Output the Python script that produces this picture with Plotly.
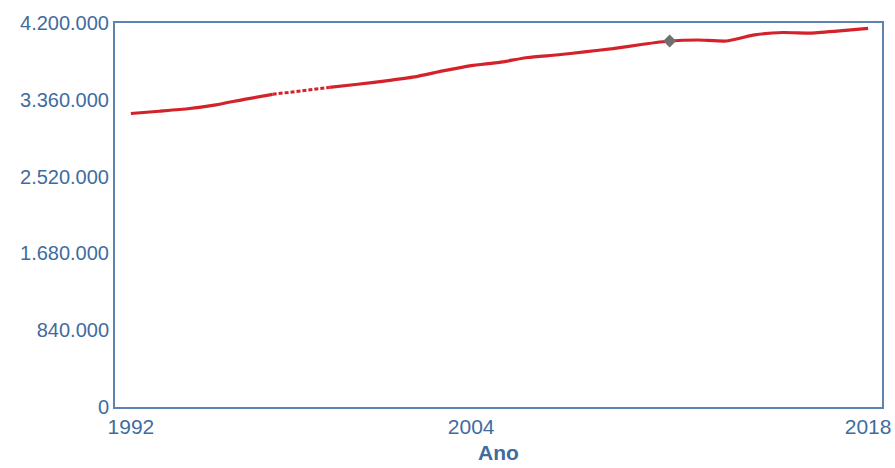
import plotly.graph_objects as go

years = list(range(1992, 2019))
values = [3210000, 3235000, 3262000, 3305000, 3365000, 3420000, None, 3495000,
          3530000, 3567000, 3610000, 3676000, 3734000, 3770000, 3823000, 3850000,
          3884000, 3920000, 3965000, 4003000, 4014000, 4003000, 4070000, 4096000,
          4090000, 4113000, 4142000]
highlight_year = 2011
y_tickvals = [0, 840000, 1680000, 2520000, 3360000, 4200000]
y_ticktext = ["0", "840.000", "1.680.000", "2.520.000", "3.360.000", "4.200.000"]
x_tickvals = [1992, 2004, 2018]
x_ticktext = ["1992", "2004", "2018"]

RED = "#d3222a"
AXIS = "#5b84b3"
TXT = "#3f6c9f"

fig = go.Figure()
# dashed connector across missing year
gap_i = values.index(None)
fig.add_trace(go.Scatter(
    x=[years[gap_i - 1], years[gap_i + 1]],
    y=[values[gap_i - 1], values[gap_i + 1]],
    mode="lines", line=dict(color=RED, width=3, dash="4px,2px"),
    hoverinfo="skip", showlegend=False))
fig.add_trace(go.Scatter(
    x=years, y=values, mode="lines",
    line=dict(color=RED, width=3.2, shape="spline", smoothing=0.5),
    connectgaps=False, showlegend=False))
hi = years.index(highlight_year)
fig.add_trace(go.Scatter(
    x=[years[hi]], y=[values[hi]], mode="markers",
    marker=dict(symbol="diamond", size=10, color="#707070"),
    showlegend=False))

fig.update_layout(
    width=895, height=468,
    margin=dict(l=115, r=13, t=23, b=61, autoexpand=False),
    paper_bgcolor="white", plot_bgcolor="white",
    font=dict(family="Liberation Sans, Arial, sans-serif", color=TXT),
    xaxis=dict(
        range=[1991.44, 2018.49], tickvals=x_tickvals, ticktext=x_ticktext,
        showgrid=False, zeroline=False, showline=True, mirror=True, automargin=False,
        linecolor=AXIS, linewidth=2, ticks="", tickfont=dict(size=21, color=TXT),
        title=dict(text="<b>Ano</b>", font=dict(size=21, color=TXT), standoff=8),
    ),
    yaxis=dict(
        range=[0, 4200000], tickvals=y_tickvals, ticktext=y_ticktext, automargin=False,
        showgrid=False, zeroline=False, showline=True, mirror=True,
        linecolor=AXIS, linewidth=2, ticks="", tickfont=dict(size=20, color=TXT),
    ),
)

fig.write_html(
    "out.html",
    config={"displayModeBar": False},
    post_script="document.body.style.margin='0';document.body.style.overflow='hidden';",
)
